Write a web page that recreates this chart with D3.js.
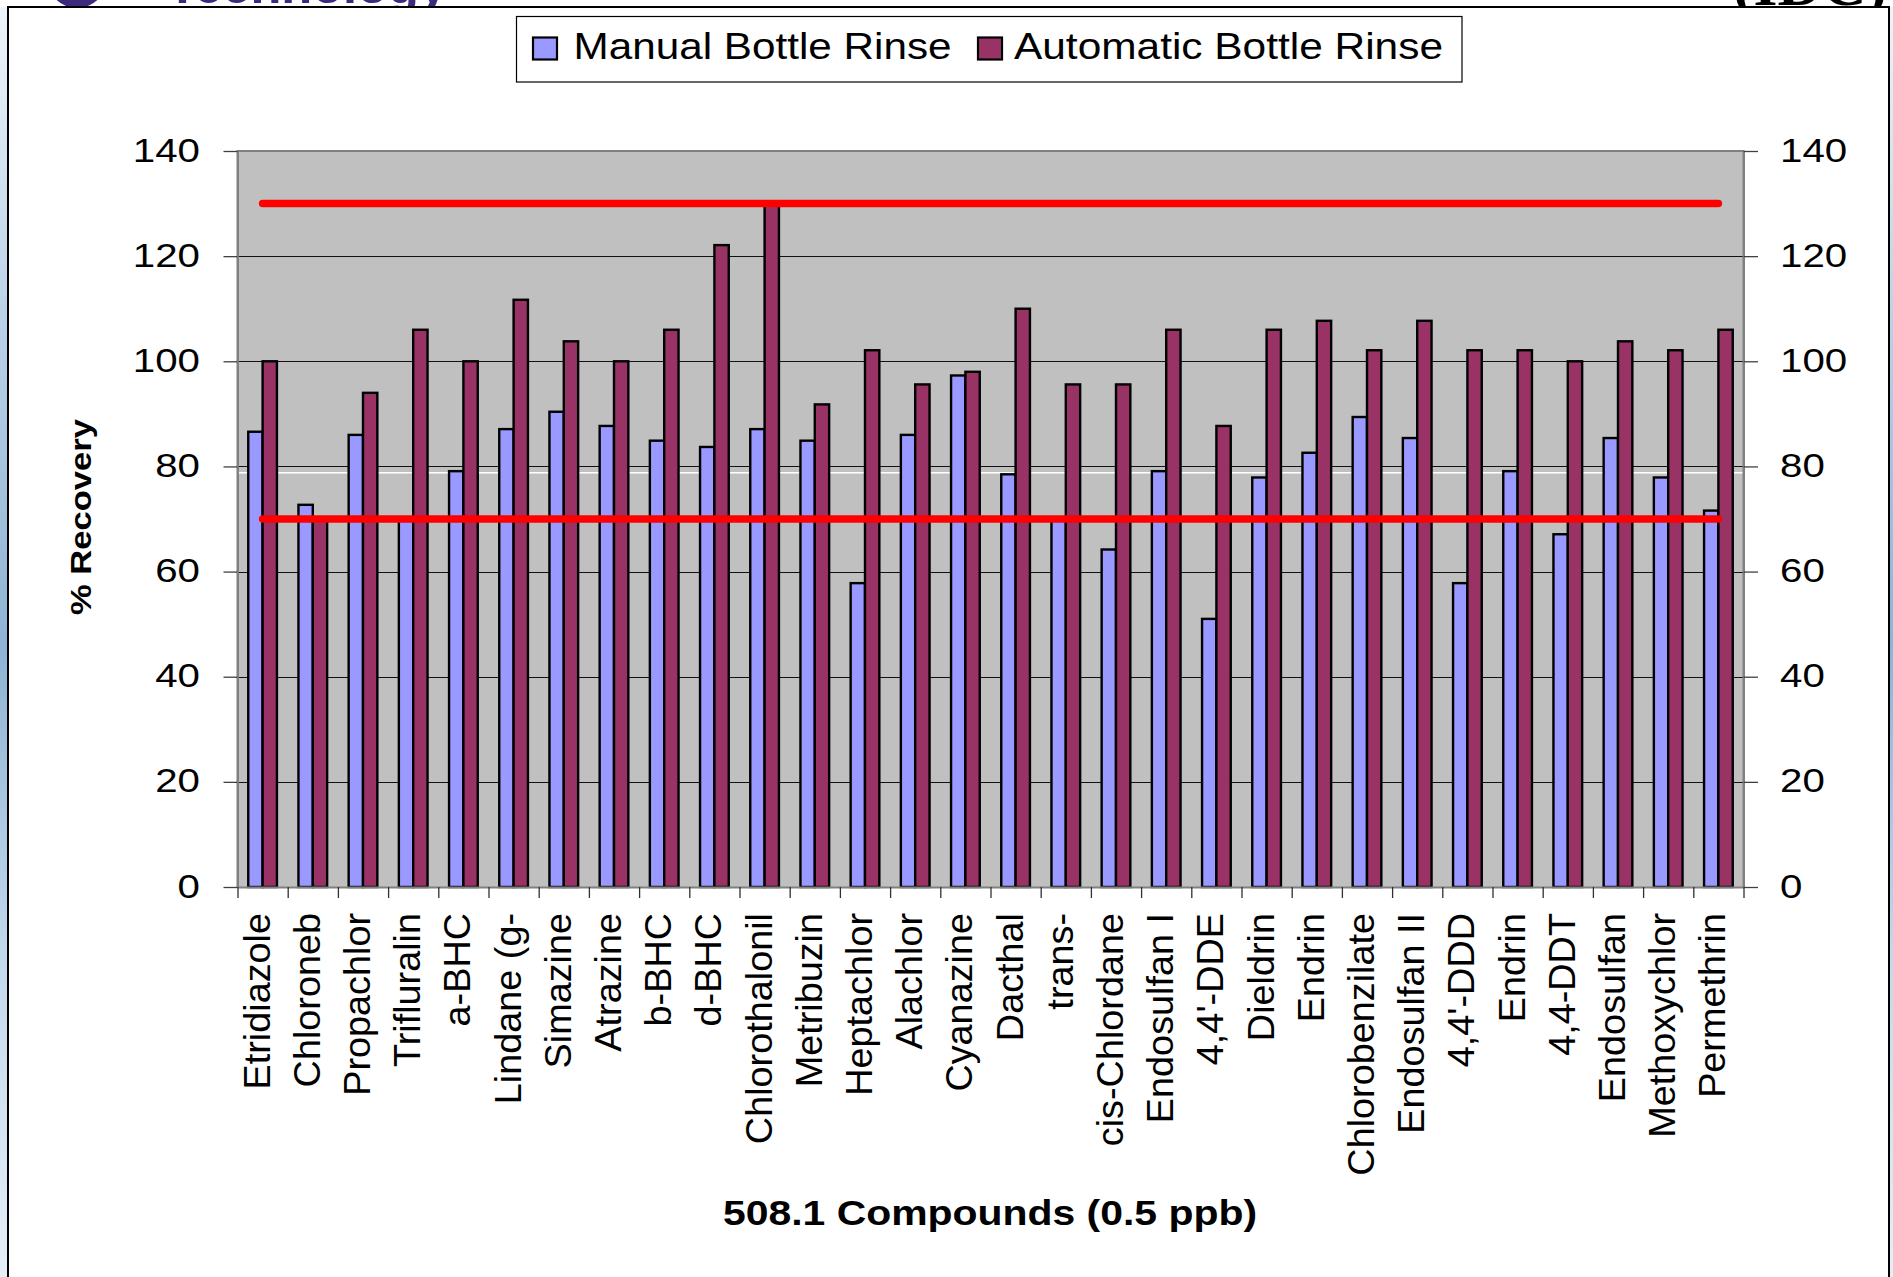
<!DOCTYPE html>
<html>
<head>
<meta charset="utf-8">
<script src="https://cdn.jsdelivr.net/npm/d3@7/dist/d3.min.js"></script>
<style>
  html, body { margin: 0; padding: 0; background: #ffffff; overflow: hidden; }
  svg { display: block; }
  text { font-family: "Liberation Sans", Arial, Helvetica, sans-serif; }
</style>
</head>
<body>
<svg id="chart" width="1893" height="1277"></svg>
<script>
// Compounds of method 508.1, in axis order
const categories = [
  "Etridiazole", "Chloroneb", "Propachlor", "Trifluralin", "a-BHC", "Lindane (g-",
  "Simazine", "Atrazine", "b-BHC", "d-BHC", "Chlorothalonil", "Metribuzin",
  "Heptachlor", "Alachlor", "Cyanazine", "Dacthal", "trans-", "cis-Chlordane",
  "Endosulfan I", "4,4'-DDE", "Dieldrin", "Endrin", "Chlorobenzilate", "Endosulfan II",
  "4,4'-DDD", "Endrin", "4,4-DDT", "Endosulfan", "Methoxychlor", "Permethrin"
];

// % recovery per compound
const manualRinse = [
  86.6, 72.7, 86.0, 70.0, 79.1, 87.1,
  90.4, 87.7, 84.9, 83.7, 87.1, 84.9,
  57.8, 86.0, 97.3, 78.5, 70.0, 64.2,
  79.1, 51.0, 77.9, 82.6, 89.4, 85.4,
  57.8, 79.1, 67.1, 85.4, 77.9, 71.6
];
const automaticRinse = [
  100.0, 70.0, 94.0, 106.0, 100.0, 111.7,
  103.8, 100.0, 106.0, 122.1, 130.0, 91.8,
  102.1, 95.6, 98.0, 110.0, 95.6, 95.6,
  106.0, 87.7, 106.0, 107.7, 102.1, 107.7,
  102.1, 102.1, 100.0, 103.8, 102.1, 106.0
];

const seriesNames = ["Manual Bottle Rinse", "Automatic Bottle Rinse"];
const seriesColors = ["#9999FF", "#993366"];

// Acceptance window (lower / upper recovery limits)
const limitValues = [70, 130];
// faint white guide just under the 80 gridline
const guideValue = 78.8;

const yTicks = [0, 20, 40, 60, 80, 100, 120, 140];
const xTitle = "508.1 Compounds (0.5 ppb)";
const yTitle = "% Recovery";

// ---- layout ----
const W = 1893, H = 1277;
const plot = { left: 237.5, right: 1743.5, top: 151, bottom: 887 };
const svg = d3.select("#chart");

// page background (slide behind the chart)
const defs = svg.append("defs");
const bg = defs.append("linearGradient").attr("id", "slideBg")
  .attr("x1", 0).attr("y1", 0).attr("x2", 0).attr("y2", 1);
bg.append("stop").attr("offset", "0%").attr("stop-color", "#eef4fa");
bg.append("stop").attr("offset", "25%").attr("stop-color", "#b9d1e6");
bg.append("stop").attr("offset", "50%").attr("stop-color", "#8fb3d4");
bg.append("stop").attr("offset", "75%").attr("stop-color", "#c4d9ec");
bg.append("stop").attr("offset", "100%").attr("stop-color", "#e6eff8");

svg.append("rect").attr("x", 0).attr("y", 0).attr("width", W).attr("height", H).attr("fill", "#ffffff");
svg.append("rect").attr("x", 0).attr("y", 7).attr("width", W).attr("height", H).attr("fill", "url(#slideBg)");

// slide header pieces peeking above the chart frame
svg.append("circle").attr("cx", 77).attr("cy", -22).attr("r", 30).attr("fill", "#3d2a7d");
svg.append("text").attr("x", 167).attr("y", 3)
  .attr("font-size", 50).attr("font-weight", "bold").attr("fill", "#3d2a7d")
  .attr("textLength", 280).attr("lengthAdjust", "spacingAndGlyphs")
  .text("Technology");
svg.append("text").attr("x", 1733).attr("y", 5)
  .style("font-family", "'Liberation Serif', 'Times New Roman', serif")
  .attr("font-size", 62).attr("font-weight", "bold").attr("fill", "#000")
  .attr("textLength", 154).attr("lengthAdjust", "spacingAndGlyphs")
  .text("(IDC)");

// chart frame
svg.append("rect").attr("x", 8).attr("y", 7).attr("width", 1881).attr("height", 1300)
  .attr("fill", "#ffffff").attr("stroke", "#000").attr("stroke-width", 2);

// ---- scales ----
const idx = d3.range(categories.length);
const x0 = d3.scaleBand().domain(idx).range([plot.left, plot.right]).padding(0);
const x1 = d3.scaleBand().domain([0, 1]).range([0, x0.bandwidth()])
  .paddingInner(0).paddingOuter(0.75);
const xEdge = d3.scaleLinear().domain([0, categories.length]).range([plot.left, plot.right]);
const y = d3.scaleLinear().domain([0, 140]).range([plot.bottom, plot.top]);

// plot background
svg.append("rect")
  .attr("x", plot.left).attr("y", plot.top)
  .attr("width", plot.right - plot.left).attr("height", plot.bottom - plot.top)
  .attr("fill", "#C0C0C0");

// gridlines
svg.append("g").selectAll("line")
  .data(yTicks.filter(v => v > 0 && v < 140))
  .join("line")
  .attr("x1", plot.left).attr("x2", plot.right)
  .attr("y1", d => Math.round(y(d)) + 0.5).attr("y2", d => Math.round(y(d)) + 0.5)
  .attr("stroke", "#111").attr("stroke-width", 1);

svg.append("line")
  .attr("x1", plot.left).attr("x2", plot.right)
  .attr("y1", y(guideValue)).attr("y2", y(guideValue))
  .attr("stroke", "#ffffff").attr("stroke-width", 1.3);

// bars
const values = [manualRinse, automaticRinse];
const barData = [];
idx.forEach(i => values.forEach((arr, s) => barData.push({ i, s, v: arr[i] })));

svg.append("g").selectAll("rect")
  .data(barData)
  .join("rect")
  .attr("x", d => x0(d.i) + x1(d.s))
  .attr("y", d => y(d.v))
  .attr("width", x1.bandwidth())
  .attr("height", d => y(0) - y(d.v))
  .attr("fill", d => seriesColors[d.s])
  .attr("stroke", "#000")
  .attr("stroke-width", 2.4);

// plot border (top / left / right)
svg.append("path")
  .attr("d", `M${plot.left},${plot.bottom}V${plot.top}H${plot.right}V${plot.bottom}`)
  .attr("fill", "none").attr("stroke", "#808080").attr("stroke-width", 2);

// limit lines across the compound range
const limitLine = d3.line()
  .x(i => x0(i) + x0.bandwidth() / 2);
svg.append("g").selectAll("path")
  .data(limitValues)
  .join("path")
  .attr("d", v => limitLine.y(() => y(v))([0, categories.length - 1]))
  .attr("fill", "none")
  .attr("stroke", "#FF0000")
  .attr("stroke-width", 7.5)
  .attr("stroke-linecap", "round");

// ---- axes ----
function styleValueAxis(g, dx, anchor) {
  g.select(".domain").attr("stroke", "#808080").attr("stroke-width", 2);
  g.selectAll(".tick line").attr("stroke", "#404040").attr("stroke-width", 1.3);
  g.selectAll(".tick text")
    .attr("x", 0).attr("y", 0).attr("dy", 10)
    .attr("transform", `translate(${dx},0) scale(1.22,1)`)
    .attr("text-anchor", anchor)
    .attr("fill", "#000")
    .style("font-family", "'Liberation Sans', Arial, sans-serif")
    .style("font-size", "33px");
}

svg.append("g")
  .attr("transform", `translate(${plot.left},0)`)
  .call(d3.axisLeft(y).tickValues(yTicks).tickSize(14).tickSizeOuter(0).tickFormat(d3.format("d")))
  .call(g => styleValueAxis(g, -37.5, "end"));

svg.append("g")
  .attr("transform", `translate(${plot.right},0)`)
  .call(d3.axisRight(y).tickValues(yTicks).tickSize(14.5).tickSizeOuter(0).tickFormat(d3.format("d")))
  .call(g => styleValueAxis(g, 36.5, "start"));

// category axis: ticks on category boundaries
svg.append("g")
  .attr("transform", `translate(0,${plot.bottom})`)
  .call(d3.axisBottom(xEdge).tickValues(d3.range(categories.length + 1)).tickSize(11).tickSizeOuter(0).tickFormat(""))
  .call(g => {
    g.select(".domain").attr("stroke", "#808080").attr("stroke-width", 2);
    g.selectAll(".tick line").attr("stroke", "#303030").attr("stroke-width", 1.3);
  });

// category labels, rotated
svg.append("g").selectAll("text")
  .data(idx)
  .join("text")
  .attr("transform", i => `translate(${x0(i) + x0.bandwidth() / 2 + 7},913) rotate(-90)`)
  .attr("text-anchor", "end")
  .attr("font-size", 37.8)
  .attr("fill", "#000")
  .text(i => categories[i]);

// axis titles
svg.append("text")
  .attr("x", 990).attr("y", 1225)
  .attr("text-anchor", "middle")
  .attr("font-size", 35).attr("font-weight", "bold")
  .attr("textLength", 534).attr("lengthAdjust", "spacingAndGlyphs")
  .text(xTitle);

svg.append("text")
  .attr("transform", "translate(91,517) rotate(-90)")
  .attr("text-anchor", "middle")
  .attr("font-size", 30).attr("font-weight", "bold")
  .attr("textLength", 196).attr("lengthAdjust", "spacingAndGlyphs")
  .text(yTitle);

// ---- legend ----
const legend = svg.append("g");
legend.append("rect")
  .attr("x", 516.5).attr("y", 16.5).attr("width", 945.5).attr("height", 65.5)
  .attr("fill", "#fff").attr("stroke", "#000").attr("stroke-width", 1.2);

const legendItems = [
  { swatch: 533, textX: 573.5, len: 378 },
  { swatch: 978, textX: 1014, len: 429 }
];
legend.selectAll("g.item")
  .data(seriesNames)
  .join("g").attr("class", "item")
  .each(function (name, s) {
    const g = d3.select(this);
    const it = legendItems[s];
    g.append("rect")
      .attr("x", it.swatch).attr("y", 37.5).attr("width", 24).attr("height", 22)
      .attr("fill", seriesColors[s]).attr("stroke", "#000").attr("stroke-width", 2.2);
    g.append("text")
      .attr("x", it.textX).attr("y", 58.5)
      .attr("font-size", 37).attr("fill", "#000")
      .attr("textLength", it.len).attr("lengthAdjust", "spacingAndGlyphs")
      .text(name);
  });
</script>
</body>
</html>
